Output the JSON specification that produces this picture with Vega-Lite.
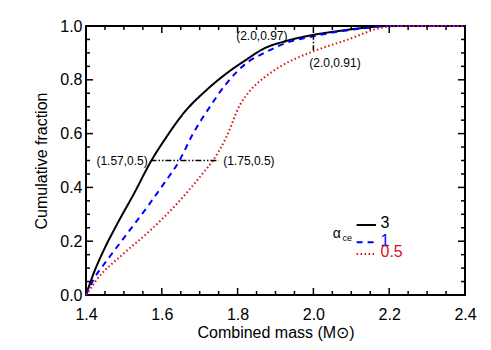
{
  "$schema": "https://vega.github.io/schema/vega-lite/v6.json",
  "width": 379,
  "height": 269,
  "autosize": {"type": "none"},
  "padding": {"left": 86, "top": 26, "right": 26, "bottom": 55},
  "config": {
    "font": "Liberation Sans",
    "view": {"stroke": "black", "strokeWidth": 2},
    "axis": {"domain": false, "grid": false, "ticks": false, "labelColor": "black", "titleColor": "black", "labelFontSize": 16, "titleFontSize": 16, "titleFontWeight": "normal"}
  },
  "datasets": {
    "curves": [
      {"alpha": "3", "mass": 1.4, "frac": 0.0},
      {"alpha": "3", "mass": 1.42, "frac": 0.08},
      {"alpha": "3", "mass": 1.447, "frac": 0.167},
      {"alpha": "3", "mass": 1.483, "frac": 0.266},
      {"alpha": "3", "mass": 1.527, "frac": 0.378},
      {"alpha": "3", "mass": 1.571, "frac": 0.496},
      {"alpha": "3", "mass": 1.613, "frac": 0.589},
      {"alpha": "3", "mass": 1.657, "frac": 0.675},
      {"alpha": "3", "mass": 1.718, "frac": 0.762},
      {"alpha": "3", "mass": 1.771, "frac": 0.824},
      {"alpha": "3", "mass": 1.82, "frac": 0.872},
      {"alpha": "3", "mass": 1.868, "frac": 0.915},
      {"alpha": "3", "mass": 1.93, "frac": 0.945},
      {"alpha": "3", "mass": 2.0, "frac": 0.967},
      {"alpha": "3", "mass": 2.07, "frac": 0.982},
      {"alpha": "3", "mass": 2.132, "frac": 0.993},
      {"alpha": "3", "mass": 2.2, "frac": 1.0},
      {"alpha": "3", "mass": 2.4, "frac": 1.0},
      {"alpha": "1", "mass": 1.4, "frac": 0.0},
      {"alpha": "1", "mass": 1.421, "frac": 0.06},
      {"alpha": "1", "mass": 1.456, "frac": 0.13},
      {"alpha": "1", "mass": 1.509, "frac": 0.229},
      {"alpha": "1", "mass": 1.562, "frac": 0.328},
      {"alpha": "1", "mass": 1.606, "frac": 0.415},
      {"alpha": "1", "mass": 1.645, "frac": 0.496},
      {"alpha": "1", "mass": 1.683, "frac": 0.601},
      {"alpha": "1", "mass": 1.727, "frac": 0.7},
      {"alpha": "1", "mass": 1.771, "frac": 0.787},
      {"alpha": "1", "mass": 1.828, "frac": 0.867},
      {"alpha": "1", "mass": 1.868, "frac": 0.898},
      {"alpha": "1", "mass": 1.93, "frac": 0.938},
      {"alpha": "1", "mass": 2.0, "frac": 0.962},
      {"alpha": "1", "mass": 2.07, "frac": 0.98},
      {"alpha": "1", "mass": 2.14, "frac": 0.993},
      {"alpha": "1", "mass": 2.2, "frac": 1.0},
      {"alpha": "1", "mass": 2.4, "frac": 1.0},
      {"alpha": "0.5", "mass": 1.4, "frac": 0.0},
      {"alpha": "0.5", "mass": 1.43, "frac": 0.06},
      {"alpha": "0.5", "mass": 1.5, "frac": 0.155},
      {"alpha": "0.5", "mass": 1.571, "frac": 0.242},
      {"alpha": "0.5", "mass": 1.641, "frac": 0.341},
      {"alpha": "0.5", "mass": 1.707, "frac": 0.45},
      {"alpha": "0.5", "mass": 1.736, "frac": 0.502},
      {"alpha": "0.5", "mass": 1.771, "frac": 0.589},
      {"alpha": "0.5", "mass": 1.806, "frac": 0.706},
      {"alpha": "0.5", "mass": 1.833, "frac": 0.76},
      {"alpha": "0.5", "mass": 1.868, "frac": 0.806},
      {"alpha": "0.5", "mass": 1.912, "frac": 0.849},
      {"alpha": "0.5", "mass": 2.0, "frac": 0.906},
      {"alpha": "0.5", "mass": 2.088, "frac": 0.948},
      {"alpha": "0.5", "mass": 2.185, "frac": 0.995},
      {"alpha": "0.5", "mass": 2.23, "frac": 1.0},
      {"alpha": "0.5", "mass": 2.4, "frac": 1.0}
    ],
    "xmajor": [{"v": 1.6}, {"v": 1.8}, {"v": 2.0}, {"v": 2.2}],
    "xminor": [{"v": 1.45}, {"v": 1.5}, {"v": 1.55}, {"v": 1.65}, {"v": 1.7}, {"v": 1.75}, {"v": 1.85}, {"v": 1.9}, {"v": 1.95}, {"v": 2.05}, {"v": 2.1}, {"v": 2.15}, {"v": 2.25}, {"v": 2.3}, {"v": 2.35}],
    "ymajor": [{"v": 0.2}, {"v": 0.4}, {"v": 0.6}, {"v": 0.8}],
    "yminor": [{"v": 0.05}, {"v": 0.1}, {"v": 0.15}, {"v": 0.25}, {"v": 0.3}, {"v": 0.35}, {"v": 0.45}, {"v": 0.5}, {"v": 0.55}, {"v": 0.65}, {"v": 0.7}, {"v": 0.75}, {"v": 0.85}, {"v": 0.9}, {"v": 0.95}],
    "key": [
      {"alpha": "3", "x": 2.114, "x2": 2.165, "y": 0.26, "tx": 2.177, "ty": 0.266},
      {"alpha": "1", "x": 2.114, "x2": 2.165, "y": 0.196, "tx": 2.177, "ty": 0.202},
      {"alpha": "0.5", "x": 2.114, "x2": 2.165, "y": 0.152, "tx": 2.177, "ty": 0.158}
    ],
    "hline": [{"x": 1.57, "x2": 1.75, "y": 0.5}],
    "vline": [{"x": 2.0, "y": 0.91, "y2": 0.97}],
    "labels": [
      {"text": "(1.57,0.5)", "x": 1.563, "y": 0.5, "align": "right"},
      {"text": "(1.75,0.5)", "x": 1.762, "y": 0.5, "align": "left"},
      {"text": "(2.0,0.97)", "x": 1.864, "y": 0.962, "align": "center"},
      {"text": "(2.0,0.91)", "x": 2.057, "y": 0.862, "align": "center"}
    ],
    "alphalabel": [
      {"text": "α", "x": 2.051, "y": 0.228, "size": 14},
      {"text": "ce", "x": 2.077, "y": 0.212, "size": 9}
    ]
  },
  "layer": [
    {
      "data": {"name": "curves"},
      "mark": {"type": "line", "strokeWidth": 2, "interpolate": "monotone"},
      "encoding": {
        "x": {
          "field": "mass", "type": "quantitative",
          "scale": {"domain": [1.4, 2.4], "nice": false, "zero": false},
          "axis": {
            "orient": "bottom", "title": "Combined mass (M⊙)",
            "values": [1.4, 1.6, 1.8, 2.0, 2.2, 2.4], "format": ".1f",
            "labelPadding": 11, "titlePadding": 2, "labelFlush": false
          }
        },
        "y": {
          "field": "frac", "type": "quantitative",
          "scale": {"domain": [0, 1], "nice": false},
          "axis": {
            "orient": "left", "title": "Cumulative fraction",
            "values": [0, 0.2, 0.4, 0.6, 0.8, 1.0], "format": ".1f",
            "labelPadding": 4, "titlePadding": 10, "labelFlush": false
          }
        },
        "color": {
          "field": "alpha", "type": "nominal",
          "scale": {"domain": ["3", "1", "0.5"], "range": ["#000000", "#0000ff", "#dd1111"]},
          "legend": null
        },
        "strokeDash": {
          "field": "alpha", "type": "nominal",
          "scale": {"domain": ["3", "1", "0.5"], "range": [[1, 0], [6, 5], [1.5, 2.5]]},
          "legend": null
        }
      }
    },
    {
      "data": {"name": "xmajor"},
      "mark": {"type": "tick", "orient": "vertical", "color": "black", "size": 7, "thickness": 1.5, "yOffset": -3.5, "opacity": 1},
      "encoding": {"x": {"field": "v", "type": "quantitative", "axis": {"title": "Combined mass (M⊙)"}}, "y": {"datum": 0, "type": "quantitative", "axis": {"title": "Cumulative fraction"}}}
    },
    {
      "data": {"name": "xmajor"},
      "mark": {"type": "tick", "orient": "vertical", "color": "black", "size": 7, "thickness": 1.5, "yOffset": 3.5, "opacity": 1},
      "encoding": {"x": {"field": "v", "type": "quantitative", "axis": {"title": "Combined mass (M⊙)"}}, "y": {"datum": 1, "type": "quantitative", "axis": {"title": "Cumulative fraction"}}}
    },
    {
      "data": {"name": "xminor"},
      "mark": {"type": "tick", "orient": "vertical", "color": "black", "size": 4, "thickness": 1.5, "yOffset": -2, "opacity": 1},
      "encoding": {"x": {"field": "v", "type": "quantitative", "axis": {"title": "Combined mass (M⊙)"}}, "y": {"datum": 0, "type": "quantitative", "axis": {"title": "Cumulative fraction"}}}
    },
    {
      "data": {"name": "xminor"},
      "mark": {"type": "tick", "orient": "vertical", "color": "black", "size": 4, "thickness": 1.5, "yOffset": 2, "opacity": 1},
      "encoding": {"x": {"field": "v", "type": "quantitative", "axis": {"title": "Combined mass (M⊙)"}}, "y": {"datum": 1, "type": "quantitative", "axis": {"title": "Cumulative fraction"}}}
    },
    {
      "data": {"name": "ymajor"},
      "mark": {"type": "tick", "orient": "horizontal", "color": "black", "size": 7, "thickness": 1.5, "xOffset": 3.5, "opacity": 1},
      "encoding": {"y": {"field": "v", "type": "quantitative", "axis": {"title": "Cumulative fraction"}}, "x": {"datum": 1.4, "type": "quantitative", "axis": {"title": "Combined mass (M⊙)"}}}
    },
    {
      "data": {"name": "ymajor"},
      "mark": {"type": "tick", "orient": "horizontal", "color": "black", "size": 7, "thickness": 1.5, "xOffset": -3.5, "opacity": 1},
      "encoding": {"y": {"field": "v", "type": "quantitative", "axis": {"title": "Cumulative fraction"}}, "x": {"datum": 2.4, "type": "quantitative", "axis": {"title": "Combined mass (M⊙)"}}}
    },
    {
      "data": {"name": "yminor"},
      "mark": {"type": "tick", "orient": "horizontal", "color": "black", "size": 4, "thickness": 1.5, "xOffset": 2, "opacity": 1},
      "encoding": {"y": {"field": "v", "type": "quantitative", "axis": {"title": "Cumulative fraction"}}, "x": {"datum": 1.4, "type": "quantitative", "axis": {"title": "Combined mass (M⊙)"}}}
    },
    {
      "data": {"name": "yminor"},
      "mark": {"type": "tick", "orient": "horizontal", "color": "black", "size": 4, "thickness": 1.5, "xOffset": -2, "opacity": 1},
      "encoding": {"y": {"field": "v", "type": "quantitative", "axis": {"title": "Cumulative fraction"}}, "x": {"datum": 2.4, "type": "quantitative", "axis": {"title": "Combined mass (M⊙)"}}}
    },
    {
      "data": {"name": "hline"},
      "mark": {"type": "rule", "color": "black", "strokeWidth": 1.5, "strokeDash": [6, 2, 1.5, 2, 1.5, 2]},
      "encoding": {
        "x": {"field": "x", "type": "quantitative", "axis": {"title": "Combined mass (M⊙)"}},
        "x2": {"field": "x2"},
        "y": {"field": "y", "type": "quantitative", "axis": {"title": "Cumulative fraction"}}
      }
    },
    {
      "data": {"name": "vline"},
      "mark": {"type": "rule", "color": "black", "strokeWidth": 1.5, "strokeDash": [5, 2, 1.5, 2]},
      "encoding": {
        "x": {"field": "x", "type": "quantitative", "axis": {"title": "Combined mass (M⊙)"}},
        "y": {"field": "y", "type": "quantitative", "axis": {"title": "Cumulative fraction"}},
        "y2": {"field": "y2"}
      }
    },
    {
      "data": {"name": "key"},
      "mark": {"type": "rule", "strokeWidth": 2},
      "encoding": {
        "x": {"field": "x", "type": "quantitative", "axis": {"title": "Combined mass (M⊙)"}},
        "x2": {"field": "x2"},
        "y": {"field": "y", "type": "quantitative", "axis": {"title": "Cumulative fraction"}},
        "color": {"field": "alpha", "type": "nominal", "legend": null},
        "strokeDash": {"field": "alpha", "type": "nominal", "legend": null}
      }
    },
    {
      "data": {"name": "key"},
      "mark": {"type": "text", "fontSize": 16, "font": "Liberation Sans", "baseline": "middle", "align": "left"},
      "encoding": {
        "x": {"field": "tx", "type": "quantitative", "axis": {"title": "Combined mass (M⊙)"}},
        "y": {"field": "ty", "type": "quantitative", "axis": {"title": "Cumulative fraction"}},
        "text": {"field": "alpha"},
        "color": {"field": "alpha", "type": "nominal", "legend": null}
      }
    },
    {
      "data": {"name": "alphalabel"},
      "mark": {"type": "text", "font": "Liberation Sans", "color": "black", "baseline": "middle", "align": "left"},
      "encoding": {
        "x": {"field": "x", "type": "quantitative", "axis": {"title": "Combined mass (M⊙)"}},
        "y": {"field": "y", "type": "quantitative", "axis": {"title": "Cumulative fraction"}},
        "text": {"field": "text"},
        "size": {"field": "size", "type": "quantitative", "scale": null}
      }
    },
    {
      "data": {"name": "labels"},
      "transform": [{"filter": "datum.align === 'right'"}],
      "mark": {"type": "text", "fontSize": 12, "font": "Liberation Sans", "color": "black", "baseline": "middle", "align": "right"},
      "encoding": {
        "x": {"field": "x", "type": "quantitative", "axis": {"title": "Combined mass (M⊙)"}},
        "y": {"field": "y", "type": "quantitative", "axis": {"title": "Cumulative fraction"}},
        "text": {"field": "text"}
      }
    },
    {
      "data": {"name": "labels"},
      "transform": [{"filter": "datum.align === 'left'"}],
      "mark": {"type": "text", "fontSize": 12, "font": "Liberation Sans", "color": "black", "baseline": "middle", "align": "left"},
      "encoding": {
        "x": {"field": "x", "type": "quantitative", "axis": {"title": "Combined mass (M⊙)"}},
        "y": {"field": "y", "type": "quantitative", "axis": {"title": "Cumulative fraction"}},
        "text": {"field": "text"}
      }
    },
    {
      "data": {"name": "labels"},
      "transform": [{"filter": "datum.align === 'center'"}],
      "mark": {"type": "text", "fontSize": 12, "font": "Liberation Sans", "color": "black", "baseline": "middle", "align": "center"},
      "encoding": {
        "x": {"field": "x", "type": "quantitative", "axis": {"title": "Combined mass (M⊙)"}},
        "y": {"field": "y", "type": "quantitative", "axis": {"title": "Cumulative fraction"}},
        "text": {"field": "text"}
      }
    }
  ]
}
